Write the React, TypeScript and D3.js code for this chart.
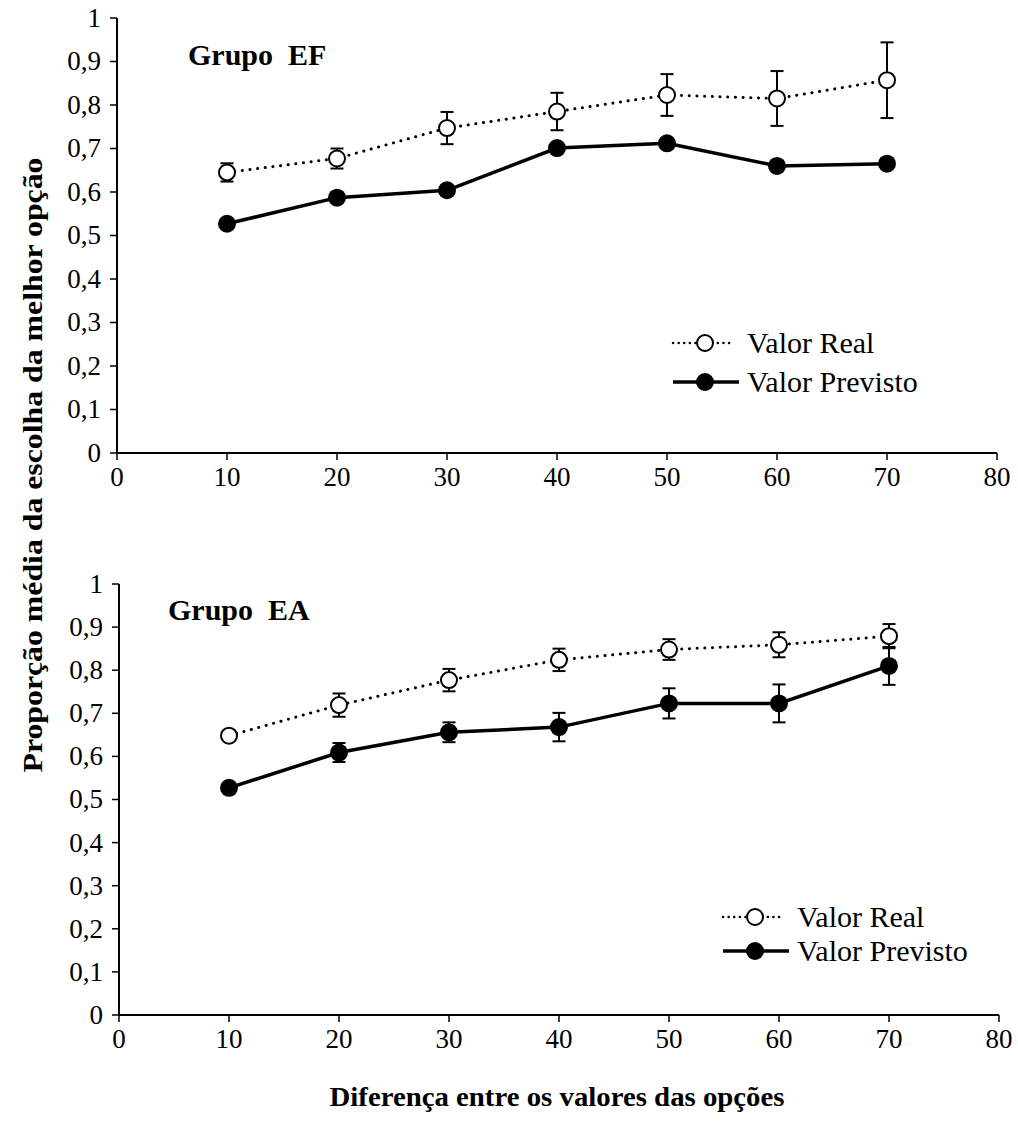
import React from "react";
import * as d3 from "d3";

const xValues = [10, 20, 30, 40, 50, 60, 70];
const xTicks = [0, 10, 20, 30, 40, 50, 60, 70, 80];
const yTicks = [0, 0.1, 0.2, 0.3, 0.4, 0.5, 0.6, 0.7, 0.8, 0.9, 1];

const efReal = [0.645, 0.677, 0.747, 0.785, 0.823, 0.815, 0.857];
const efRealErr = [0.021, 0.023, 0.037, 0.043, 0.048, 0.063, 0.087];
const efPrev = [0.527, 0.587, 0.604, 0.701, 0.712, 0.66, 0.665];
const efPrevErr = [0, 0, 0, 0, 0, 0, 0];

const eaReal = [0.648, 0.719, 0.777, 0.824, 0.848, 0.859, 0.879];
const eaRealErr = [0, 0.027, 0.026, 0.026, 0.024, 0.029, 0.028];
const eaPrev = [0.527, 0.609, 0.656, 0.668, 0.723, 0.723, 0.81];
const eaPrevErr = [0, 0.022, 0.023, 0.033, 0.035, 0.044, 0.044];

const legendLabels = ["Valor Real", "Valor Previsto"];
const FONT = "'Liberation Serif', 'Times New Roman', serif";

const fmt = (v: number) => (v === 0 || v === 1 ? String(v) : d3.format(".1f")(v).replace(".", ","));

type PanelProps = {
  title: string;
  xRange: [number, number];
  yRange: [number, number];
  real: number[];
  realErr: number[];
  prev: number[];
  prevErr: number[];
  titlePos: [number, number];
  legendPos: [number, number, number];
};

function Panel(p: PanelProps) {
  const x = d3.scaleLinear().domain([0, 80]).range(p.xRange);
  const y = d3.scaleLinear().domain([0, 1]).range(p.yRange);
  const line = d3
    .line<number>()
    .x((_, i) => x(xValues[i]))
    .y((d) => y(d));
  const y0 = y(0);
  const x0 = x(0);
  const errBars = (vals: number[], errs: number[], key: string) =>
    vals.map((v, i) =>
      errs[i] > 0 ? (
        <g key={key + i} stroke="#000" strokeWidth={2}>
          <line x1={x(xValues[i])} x2={x(xValues[i])} y1={y(v - errs[i])} y2={y(v + errs[i])} />
          <line x1={x(xValues[i]) - 6.5} x2={x(xValues[i]) + 6.5} y1={y(v - errs[i])} y2={y(v - errs[i])} />
          <line x1={x(xValues[i]) - 6.5} x2={x(xValues[i]) + 6.5} y1={y(v + errs[i])} y2={y(v + errs[i])} />
        </g>
      ) : null
    );
  const [lx, ly, lgap] = p.legendPos;
  return (
    <g>
      <line x1={x0} x2={x(80)} y1={y0} y2={y0} stroke="#000" strokeWidth={2} />
      <line x1={x0} x2={x0} y1={y(0)} y2={y(1)} stroke="#000" strokeWidth={2} />
      {yTicks.map((t) => (
        <g key={"yt" + t}>
          <line x1={x0 - 7} x2={x0} y1={y(t)} y2={y(t)} stroke="#000" strokeWidth={1.5} />
          <text x={x0 - 16} y={y(t)} dy="0.33em" textAnchor="end" fontSize={27} fontFamily={FONT}>
            {fmt(t)}
          </text>
        </g>
      ))}
      {xTicks.map((t) => (
        <g key={"xt" + t}>
          <line x1={x(t)} x2={x(t)} y1={y0} y2={y0 + 7} stroke="#000" strokeWidth={1.5} />
          <text x={x(t)} y={y0 + 33} textAnchor="middle" fontSize={27} fontFamily={FONT}>
            {t}
          </text>
        </g>
      ))}
      <text x={p.titlePos[0]} y={p.titlePos[1]} fontSize={30} fontWeight="bold" fontFamily={FONT} xmlSpace="preserve">
        {p.title}
      </text>
      {errBars(p.real, p.realErr, "re")}
      {errBars(p.prev, p.prevErr, "pe")}
      <path d={line(p.real) || ""} fill="none" stroke="#000" strokeWidth={3} strokeDasharray="0.1 7.6" strokeLinecap="round" />
      <path d={line(p.prev) || ""} fill="none" stroke="#000" strokeWidth={3.5} />
      {p.prev.map((v, i) => (
        <circle key={"pc" + i} cx={x(xValues[i])} cy={y(v)} r={9} fill="#000" />
      ))}
      {p.real.map((v, i) => (
        <circle key={"rc" + i} cx={x(xValues[i])} cy={y(v)} r={8} fill="#fff" stroke="#000" strokeWidth={2} />
      ))}
      <line x1={lx} x2={lx + 60} y1={ly} y2={ly} stroke="#000" strokeWidth={2.5} strokeDasharray="0.1 5.5" strokeLinecap="round" />
      <circle cx={lx + 32} cy={ly} r={8} fill="#fff" stroke="#000" strokeWidth={2} />
      <text x={lx + 74} y={ly} dy="0.33em" fontSize={30} fontFamily={FONT}>
        {legendLabels[0]}
      </text>
      <line x1={lx} x2={lx + 66} y1={ly + lgap} y2={ly + lgap} stroke="#000" strokeWidth={3.5} />
      <circle cx={lx + 32} cy={ly + lgap} r={9} fill="#000" />
      <text x={lx + 74} y={ly + lgap} dy="0.33em" fontSize={30} fontFamily={FONT}>
        {legendLabels[1]}
      </text>
    </g>
  );
}

export default function App() {
  return (
    <svg width={1018} height={1122} style={{ position: "absolute", left: 0, top: 0, background: "#fff" }}>
      <rect width={1018} height={1122} fill="#fff" />
      <Panel
        title="Grupo  EF"
        xRange={[117, 997]}
        yRange={[453, 18]}
        real={efReal}
        realErr={efRealErr}
        prev={efPrev}
        prevErr={efPrevErr}
        titlePos={[188, 65]}
        legendPos={[673, 343, 39]}
      />
      <Panel
        title="Grupo  EA"
        xRange={[119, 999]}
        yRange={[1015, 584]}
        real={eaReal}
        realErr={eaRealErr}
        prev={eaPrev}
        prevErr={eaPrevErr}
        titlePos={[168, 620]}
        legendPos={[723, 917, 34]}
      />
      <text
        transform="translate(32,465) rotate(-90)"
        textAnchor="middle"
        dy="0.35em"
        fontSize={28}
        fontWeight="bold"
        fontFamily={FONT}
        textLength={615}
        lengthAdjust="spacingAndGlyphs"
      >
        Proporção média da escolha da melhor opção
      </text>
      <text
        x={557}
        y={1106}
        textAnchor="middle"
        fontSize={27}
        fontWeight="bold"
        fontFamily={FONT}
        textLength={455}
        lengthAdjust="spacingAndGlyphs"
      >
        Diferença entre os valores das opções
      </text>
    </svg>
  );
}
